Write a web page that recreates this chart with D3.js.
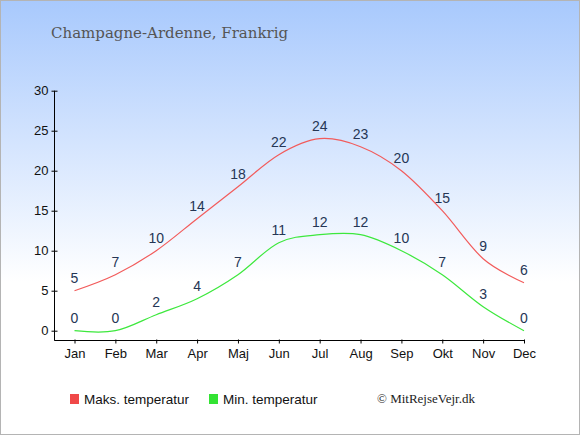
<!DOCTYPE html>
<html>
<head>
<meta charset="utf-8">
<script src="https://cdn.jsdelivr.net/npm/d3@7"></script>
<style>
  body { margin: 0; }
  svg { display: block; }
</style>
</head>
<body>
<svg width="580" height="435"></svg>
<script>
var months = ["Jan", "Feb", "Mar", "Apr", "Maj", "Jun", "Jul", "Aug", "Sep", "Okt", "Nov", "Dec"];
var maxTemps = [5, 7, 10, 14, 18, 22, 24, 23, 20, 15, 9, 6];
var minTemps = [0, 0, 2, 4, 7, 11, 12, 12, 10, 7, 3, 0];
var yTicks = [0, 5, 10, 15, 20, 25, 30];

var svg = d3.select("svg"),
    width = +svg.attr("width"),
    height = +svg.attr("height");

var defs = svg.append("defs");
var grad = defs.append("linearGradient")
    .attr("id", "bg")
    .attr("x1", 0).attr("y1", 0)
    .attr("x2", 0).attr("y2", 1);
grad.append("stop").attr("offset", "0").attr("stop-color", "#a8c9fd");
grad.append("stop").attr("offset", "0.65").attr("stop-color", "#ffffff");
grad.append("stop").attr("offset", "1").attr("stop-color", "#ffffff");

svg.append("rect")
    .attr("x", 0.5).attr("y", 0.5)
    .attr("width", width - 1).attr("height", height - 1)
    .style("fill", "url(#bg)")
    .style("stroke", "#b4b4b4");

svg.append("text")
    .attr("x", 51)
    .attr("y", 38)
    .style("font-family", "'DejaVu Serif', serif")
    .style("font-size", "15px")
    .style("fill", "#555")
    .text("Champagne-Ardenne, Frankrig");

var x = d3.scalePoint()
    .domain(months)
    .range([74.5, 524]);

var y = d3.scaleLinear()
    .domain([0, 30])
    .range([330.7, 90.7]);

// y axis
var yAxis = svg.append("g")
    .attr("transform", "translate(54.5,0)")
    .call(d3.axisLeft(y).tickValues(yTicks).tickSize(3).tickSizeOuter(0));
yAxis.selectAll(".tick line").attr("x1", -3).attr("x2", 3);
yAxis.select(".domain").attr("d", "M0," + (y(30)) + "V" + (y(0) + 10));

// x axis
var xAxis = svg.append("g")
    .attr("transform", "translate(0,340.5)")
    .call(d3.axisBottom(x).tickSize(3).tickSizeOuter(0));
xAxis.selectAll(".tick line").attr("y1", -1).attr("y2", 3);
xAxis.select(".domain").attr("d", "M54.5,0H" + (x("Dec") + 1));

svg.selectAll(".tick text")
    .style("font-family", "'Liberation Sans', Arial, sans-serif")
    .style("font-size", "13px")
    .style("fill", "#111");
yAxis.selectAll(".tick text").attr("x", -6);
xAxis.selectAll(".tick text").attr("y", 8);

var line = d3.line()
    .x(function(d, i) { return x(months[i]); })
    .y(function(d) { return y(d); })
    .curve(d3.curveCardinal.tension(0));

svg.append("path")
    .datum(maxTemps)
    .attr("d", line)
    .style("fill", "none")
    .style("stroke", "#f25b5b")
    .style("stroke-width", 1.2);

svg.append("path")
    .datum(minTemps)
    .attr("d", line)
    .style("fill", "none")
    .style("stroke", "#3de83d")
    .style("stroke-width", 1.2);

function addLabels(data) {
  svg.append("g")
    .selectAll("text")
    .data(data)
    .enter().append("text")
    .attr("x", function(d, i) { return x(months[i]); })
    .attr("y", function(d) { return y(d) - 8; })
    .attr("text-anchor", "middle")
    .style("font-family", "'Liberation Sans', Arial, sans-serif")
    .style("font-size", "14px")
    .style("fill", "#253655")
    .text(function(d) { return d; });
}
addLabels(maxTemps);
addLabels(minTemps);

// legend
var legend = [
  { name: "Maks. temperatur", color: "#f04848", x: 70 },
  { name: "Min. temperatur", color: "#33e333", x: 209 }
];
var lg = svg.append("g").selectAll("g")
    .data(legend)
    .enter().append("g");
lg.append("rect")
    .attr("x", function(d) { return d.x; })
    .attr("y", 394)
    .attr("width", 9).attr("height", 10)
    .style("fill", function(d) { return d.color; });
lg.append("text")
    .attr("x", function(d) { return d.x + 14; })
    .attr("y", 404)
    .style("font-family", "'Liberation Sans', Arial, sans-serif")
    .style("font-size", "13.5px")
    .style("fill", "#111")
    .text(function(d) { return d.name; });

svg.append("text")
    .attr("x", 377)
    .attr("y", 403)
    .style("font-family", "'Liberation Serif', serif")
    .style("font-size", "13px")
    .style("fill", "#222")
    .text("© MitRejseVejr.dk");
</script>
</body>
</html>
